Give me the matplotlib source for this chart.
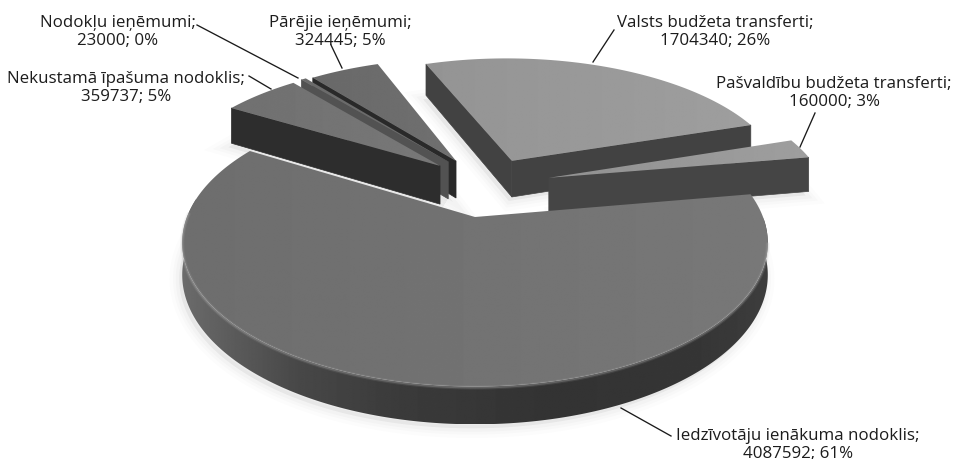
import numpy as np
import matplotlib
matplotlib.use("Agg")
import matplotlib.pyplot as plt
from matplotlib.patches import Polygon

# ---- data ----
names = ["Valsts budžeta transferti", "Pašvaldību budžeta transferti",
         "Iedzīvotāju ienākuma nodoklis", "Nekustamā īpašuma nodoklis",
         "Nodokļu ieņēmumi", "Pārējie ieņēmumi"]
values = [1704340, 160000, 4087592, 359737, 23000, 324445]
percents = [26, 3, 61, 5, 0, 5]

# ---- styling / layout ----
plt.rcParams["font.family"] = ["Open Sans", "DejaVu Sans"]
FS = 12.2
W, H = 955, 459
CX, CY, RX, RY, K = 475, 217, 288, 139, 0.18
START = -20.5
offsets = [(0.138, -0.436), (0.27, -0.297), (0, 0), (-0.13, -0.394), (-0.10, -0.428), (-0.071, -0.435)]
top_grey = [(0.58, 0.62), (0.57, 0.62), (0.43, 0.47), (0.44, 0.47), (0.42, 0.42), (0.41, 0.44)]
wall_grey = [0.26, 0.27, None, 0.175, 0.32, 0.16]
heights = [39.0, 37.0, 31.0, 41.0, 40.0, 40.0]
order = [0, 5, 4, 3, 1, 2]
label_pos = [(715, 32), (834, 93), (798, 445), (126, 88), (118, 32), (340, 32)]
leaders = [((614, 30), (593, 62)), ((815, 113), (800, 147)), ((671, 436), (621, 408)),
           ((249, 76), (271, 89)), ((197, 25), (298, 78)), ((331, 45), (342, 68))]
wall_x = [183, 230, 300, 400, 550, 700, 767]
wall_g = [0.42, 0.36, 0.28, 0.23, 0.20, 0.21, 0.24]

fig = plt.figure(figsize=(W / 100, H / 100), dpi=100, facecolor="white")
ax = fig.add_axes([0, 0, 1, 1])
ax.set_xlim(0, W)
ax.set_ylim(H, 0)
ax.axis("off")


def proj(X, Y):
    s = 1.0 / (1.0 - K * Y)
    return CX + RX * X * s, CY + RY * Y * s, s


def area(p):
    x, y = p[:, 0], p[:, 1]
    return 0.5 * np.sum(x * np.roll(y, -1) - np.roll(x, -1) * y)


def grey(g):
    return (g, g, g)


def gradient_fill(poly, xs, gs, z):
    patch = Polygon(poly, closed=True, fc="none", ec="none", zorder=z)
    ax.add_patch(patch)
    x0, x1 = poly[:, 0].min(), poly[:, 0].max()
    col = np.linspace(x0, x1, 512)
    row = np.interp(col, xs, gs)[None, :]
    im = ax.imshow(row, cmap="gray", vmin=0, vmax=1, aspect="auto",
                   extent=(x0, x1, poly[:, 1].max(), poly[:, 1].min()),
                   zorder=z, interpolation="bilinear")
    im.set_clip_path(patch)


fracs = np.array(values, float) / np.sum(values)
edges = START + 360 * np.concatenate([[0], np.cumsum(fracs)])


def outline(i):
    a0, a1 = edges[i], edges[i + 1]
    dX, dY = offsets[i]
    deg = np.linspace(a0, a1, max(12, int((a1 - a0) * 2)))
    th = np.radians(deg)
    ax0, ay0, as0 = proj(dX, dY)
    px, py, ps = proj(np.sin(th) + dX, -np.cos(th) + dY)
    h = heights[i]
    return deg, ax0, ay0, ay0 + h * as0, px, py, py + h * ps


# soft shadows first
for i in order:
    deg, ax0, ay0, ay2, px, py, py2 = outline(i)
    bot = np.column_stack([np.r_[ax0, px], np.r_[ay2, py2]])
    for lw, al in [(14, 0.012), (9, 0.015), (5, 0.02)]:
        ax.add_patch(Polygon(bot + [-3, 4], closed=True, fc=(0, 0, 0, al), ec=(0, 0, 0, al), lw=lw, zorder=1))

for rank, i in enumerate(order):
    z = 2 + rank
    deg, ax0, ay0, ay2, px, py, py2 = outline(i)

    # radial walls, kept only when they face the viewer
    for ex, ey, ey2, sign in [(px[0], py[0], py2[0], 1), (px[-1], py[-1], py2[-1], -1)]:
        quad = np.array([[ax0, ay0], [ex, ey], [ex, ey2], [ax0, ay2]])
        if sign * area(quad) < 0:
            col = wall_grey[i] if wall_grey[i] is not None else 0.3
            ax.add_patch(Polygon(quad, closed=True, fc=grey(col), ec=grey(col), lw=0.5, zorder=z))

    # outer wall where it faces the viewer
    front = (deg > 90) & (deg < 270 + 8)
    if front.any():
        wall = np.vstack([np.column_stack([px[front], py[front]]),
                          np.column_stack([px[front], py2[front]])[::-1]])
        if wall_grey[i] is None:
            gradient_fill(wall, wall_x, wall_g, z + 0.05)
        else:
            ax.add_patch(Polygon(wall, closed=True, fc=grey(wall_grey[i]), ec="none", zorder=z))

    # top face with a gentle horizontal gradient
    tp = np.column_stack([np.r_[ax0, px], np.r_[ay0, py]])
    g0, g1 = top_grey[i]
    gradient_fill(tp, [tp[:, 0].min(), tp[:, 0].max()], [g0, g1], z + 0.2)

    # rounded rim highlight on the near edge of the big slice
    if wall_grey[i] is None:
        mask = (deg > 100) & (deg < 272)
        for lw, al in [(3.0, 0.12), (1.4, 0.28)]:
            ax.plot(px[mask], py[mask] + 1.0, color="#b4b4b4", lw=lw, alpha=al, zorder=z + 0.3,
                    solid_capstyle="round")

ax.set_xlim(0, W)
ax.set_ylim(H, 0)

# labels and leader lines
for i in range(len(values)):
    (x0, y0), (x1, y1) = leaders[i]
    ax.plot([x0, x1], [y0, y1], color="#1a1a1a", lw=0.95, zorder=20)
    lx, ly = label_pos[i]
    ax.text(lx, ly, f"{names[i]};\n{values[i]}; {percents[i]}%", ha="center", va="center",
            fontsize=FS, color="#1c1c1c", linespacing=1.1, zorder=21)

fig.savefig("out.png", dpi=100, facecolor="white")
